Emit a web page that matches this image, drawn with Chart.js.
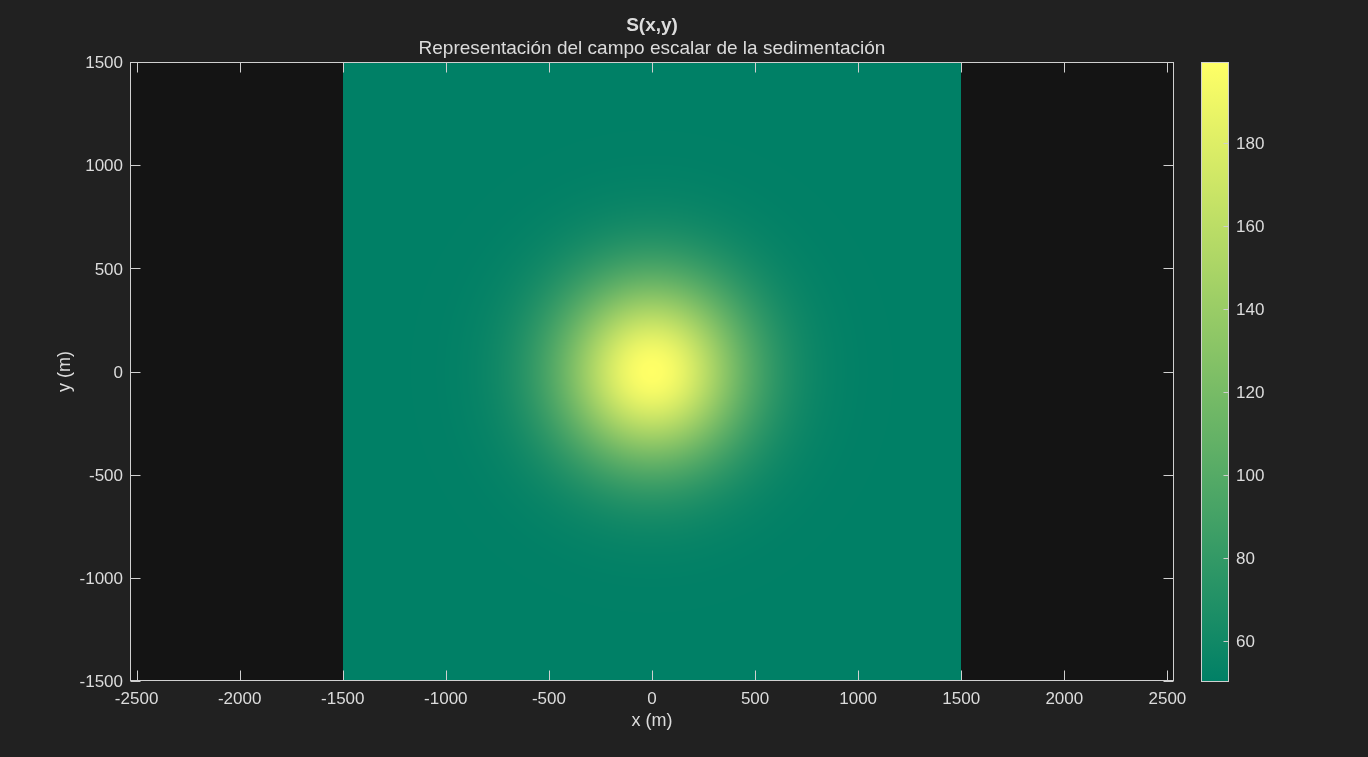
<!DOCTYPE html>
<html><head><meta charset="utf-8">
<script src="https://cdn.jsdelivr.net/npm/chart.js@4.4.1/dist/chart.umd.min.js"></script>
<style>
html,body{margin:0;padding:0;background:#212121;width:1368px;height:757px;overflow:hidden;}
#main{position:absolute;left:0;top:0;}
#cb{position:absolute;left:1190px;top:0;}
</style></head><body>
<canvas id="main" width="1368" height="757"></canvas>
<canvas id="cb" width="178" height="757"></canvas>
<script>
// Radial profile of S (distance from centre in m -> S)
const radiusM  = [0, 50, 100, 150, 200, 250, 300, 350, 400, 450, 500, 550, 600, 650, 700, 750, 800, 850, 900, 950, 1000, 1100, 1200, 1300, 2200];
const sediment = [199.6, 198.2, 193.0, 184.7, 173.8, 161.1, 147.4, 133.4, 119.7, 106.8, 95.3, 85.2, 76.7, 69.8, 64.3, 60.1, 57.0, 54.7, 53.1, 52.0, 51.2, 50.5, 50.2, 50.1, 50.0];
const centre   = [0, 0];
const fieldX   = [-1500, 1500];
const fieldY   = [-1500, 1500];
const xRange   = [-2532, 2532];
const yRange   = [-1500, 1500];
const xTicks   = [-2500, -2000, -1500, -1000, -500, 0, 500, 1000, 1500, 2000, 2500];
const yTicks   = [-1500, -1000, -500, 0, 500, 1000, 1500];
const cbRange  = [50, 199.6];
const cbTicks  = [60, 80, 100, 120, 140, 160, 180];
const titleText = 'S(x,y)';
const subtitleText = 'Representación del campo escalar de la sedimentación';
const xLabel = 'x (m)';
const yLabel = 'y (m)';

const FONT = '"Liberation Sans", Arial, sans-serif';
const TXT = '#dcdcdc';
const LINE = '#d0d0d0';
const AXBG = '#141414';
const FIGBG = '#212121';

function summer(v) {
  let t = (v - cbRange[0]) / (cbRange[1] - cbRange[0]);
  t = Math.max(0, Math.min(1, t));
  return [Math.round(255 * t), Math.round(255 * (0.5 + 0.5 * t)), 102];
}
function profile(r) {
  if (r <= radiusM[0]) return sediment[0];
  for (let k = 1; k < radiusM.length; k++) {
    if (r <= radiusM[k]) {
      const f = (r - radiusM[k - 1]) / (radiusM[k] - radiusM[k - 1]);
      return sediment[k - 1] + f * (sediment[k] - sediment[k - 1]);
    }
  }
  return sediment[sediment.length - 1];
}

const bgPlugin = {
  id: 'bg',
  beforeDraw(chart) {
    const {ctx, chartArea: a} = chart;
    ctx.save();
    ctx.fillStyle = FIGBG;
    ctx.fillRect(0, 0, chart.width, chart.height);
    ctx.fillStyle = AXBG;
    ctx.fillRect(a.left, a.top, a.right - a.left, a.bottom - a.top);
    ctx.restore();
  }
};

const heatPlugin = {
  id: 'heat',
  beforeDatasetsDraw(chart) {
    const xs = chart.scales.x, ys = chart.scales.y;
    const px0 = Math.round(xs.getPixelForValue(fieldX[0]));
    const px1 = Math.round(xs.getPixelForValue(fieldX[1]));
    const py0 = Math.round(ys.getPixelForValue(fieldY[1]));
    const py1 = Math.round(ys.getPixelForValue(fieldY[0]));
    const w = px1 - px0, h = py1 - py0;
    const off = document.createElement('canvas');
    off.width = w; off.height = h;
    const octx = off.getContext('2d');
    const img = octx.createImageData(w, h);
    for (let j = 0; j < h; j++) {
      const yv = ys.getValueForPixel(py0 + j + 0.5) - centre[1];
      for (let i = 0; i < w; i++) {
        const xv = xs.getValueForPixel(px0 + i + 0.5) - centre[0];
        const c = summer(profile(Math.hypot(xv, yv)));
        const p = (j * w + i) * 4;
        img.data[p] = c[0]; img.data[p + 1] = c[1]; img.data[p + 2] = c[2]; img.data[p + 3] = 255;
      }
    }
    octx.putImageData(img, 0, 0);
    chart.ctx.drawImage(off, px0, py0);
  }
};

const boxPlugin = {
  id: 'box',
  afterDraw(chart) {
    const {ctx, chartArea: a} = chart;
    const xs = chart.scales.x, ys = chart.scales.y;
    const L = Math.round(a.left) + 0.5, R = Math.round(a.right) - 0.5;
    const T = Math.round(a.top) + 0.5, B = Math.round(a.bottom) - 0.5;
    ctx.save();
    ctx.strokeStyle = LINE;
    ctx.lineWidth = 1;
    ctx.beginPath();
    const tl = 10;
    xTicks.forEach(v => {
      const x = Math.round(xs.getPixelForValue(v)) + 0.5;
      ctx.moveTo(x, B); ctx.lineTo(x, B - tl);
      ctx.moveTo(x, T); ctx.lineTo(x, T + tl);
    });
    yTicks.forEach(v => {
      const y = Math.round(ys.getPixelForValue(v)) + 0.5;
      ctx.moveTo(L, y); ctx.lineTo(L + tl, y);
      ctx.moveTo(R, y); ctx.lineTo(R - tl, y);
    });
    ctx.stroke();
    ctx.strokeRect(L, T, R - L, B - T);
    ctx.restore();
  }
};

const tickFont = {family: FONT, size: 17};
const labFont = {family: FONT, size: 18};

new Chart(document.getElementById('main'), {
  type: 'scatter',
  data: {datasets: [{data: [], pointRadius: 0}]},
  options: {
    responsive: false, animation: false, events: [],
    layout: {padding: {left: 0, right: 194, top: 0, bottom: 0}},
    plugins: {
      legend: {display: false}, tooltip: {enabled: false},
      title: {display: true, text: titleText, fullSize: false, color: TXT,
              font: {family: FONT, size: 19, weight: 'bold'}, padding: {top: 14.6, bottom: 0}},
      subtitle: {display: true, text: subtitleText, fullSize: false, color: TXT,
              font: {family: FONT, size: 19}, padding: {top: 0.2, bottom: 1.6}}
    },
    scales: {
      x: {
        type: 'linear', min: xRange[0], max: xRange[1],
        afterBuildTicks: s => { s.ticks = xTicks.map(v => ({value: v})); },
        afterFit: s => { s.height = 76; },
        grid: {display: false, drawTicks: false}, border: {display: false},
        ticks: {color: TXT, font: tickFont, padding: 8, maxRotation: 0, autoSkip: false, callback: v => String(v)},
        title: {display: true, text: xLabel, color: TXT, font: labFont, padding: {top: 0, bottom: 25}}
      },
      y: {
        type: 'linear', min: yRange[0], max: yRange[1],
        afterBuildTicks: s => { s.ticks = yTicks.map(v => ({value: v})); },
        afterFit: s => { s.width = 130; },
        grid: {display: false, drawTicks: false}, border: {display: false},
        ticks: {color: TXT, font: tickFont, padding: 7, autoSkip: false, labelOffset: 1.5, callback: v => String(v)},
        title: {display: true, text: yLabel, color: TXT, font: labFont, padding: {top: 54, bottom: 0}}
      }
    }
  },
  plugins: [bgPlugin, heatPlugin, boxPlugin]
});

const cbPlugin = {
  id: 'cbox',
  beforeDraw(chart) {
    const ctx = chart.ctx;
    ctx.save(); ctx.fillStyle = FIGBG; ctx.fillRect(0, 0, chart.width, chart.height); ctx.restore();
  },
  afterDraw(chart) {
    const {ctx, chartArea: a} = chart;
    const ys = chart.scales.y;
    const L = Math.round(a.left) + 0.5, R = Math.round(a.right) - 0.5;
    const T = Math.round(a.top) + 0.5, B = Math.round(a.bottom) - 0.5;
    ctx.save();
    ctx.strokeStyle = LINE; ctx.lineWidth = 1;
    ctx.beginPath();
    cbTicks.forEach(v => {
      const y = Math.round(ys.getPixelForValue(v)) + 0.5;
      ctx.moveTo(R, y); ctx.lineTo(R - 5, y);
    });
    ctx.stroke();
    ctx.strokeRect(L, T, R - L, B - T);
    ctx.restore();
  }
};

new Chart(document.getElementById('cb'), {
  type: 'bar',
  data: {
    labels: ['S'],
    datasets: [{
      data: [cbRange],
      barPercentage: 1, categoryPercentage: 1, borderWidth: 0,
      backgroundColor: ctx => {
        const c = ctx.chart;
        if (!c.chartArea) return 'rgb(0,128,102)';
        const ys = c.scales.y;
        const g = c.ctx.createLinearGradient(0, ys.getPixelForValue(cbRange[0]), 0, ys.getPixelForValue(cbRange[1]));
        const c0 = summer(cbRange[0]), c1 = summer(cbRange[1]);
        g.addColorStop(0, `rgb(${c0.join(',')})`);
        g.addColorStop(1, `rgb(${c1.join(',')})`);
        return g;
      }
    }]
  },
  options: {
    responsive: false, animation: false, events: [],
    layout: {padding: {left: 11, right: 0, top: 62, bottom: 75}},
    plugins: {legend: {display: false}, tooltip: {enabled: false}},
    scales: {
      x: {display: false},
      y: {
        position: 'right', min: cbRange[0], max: cbRange[1],
        afterBuildTicks: s => { s.ticks = cbTicks.map(v => ({value: v})); },
        afterFit: s => { s.width = 139; },
        grid: {display: false, drawTicks: false}, border: {display: false},
        ticks: {color: TXT, font: tickFont, padding: 7, autoSkip: false, labelOffset: 1.5, callback: v => String(v)}
      }
    }
  },
  plugins: [cbPlugin]
});
</script>
</body></html>
